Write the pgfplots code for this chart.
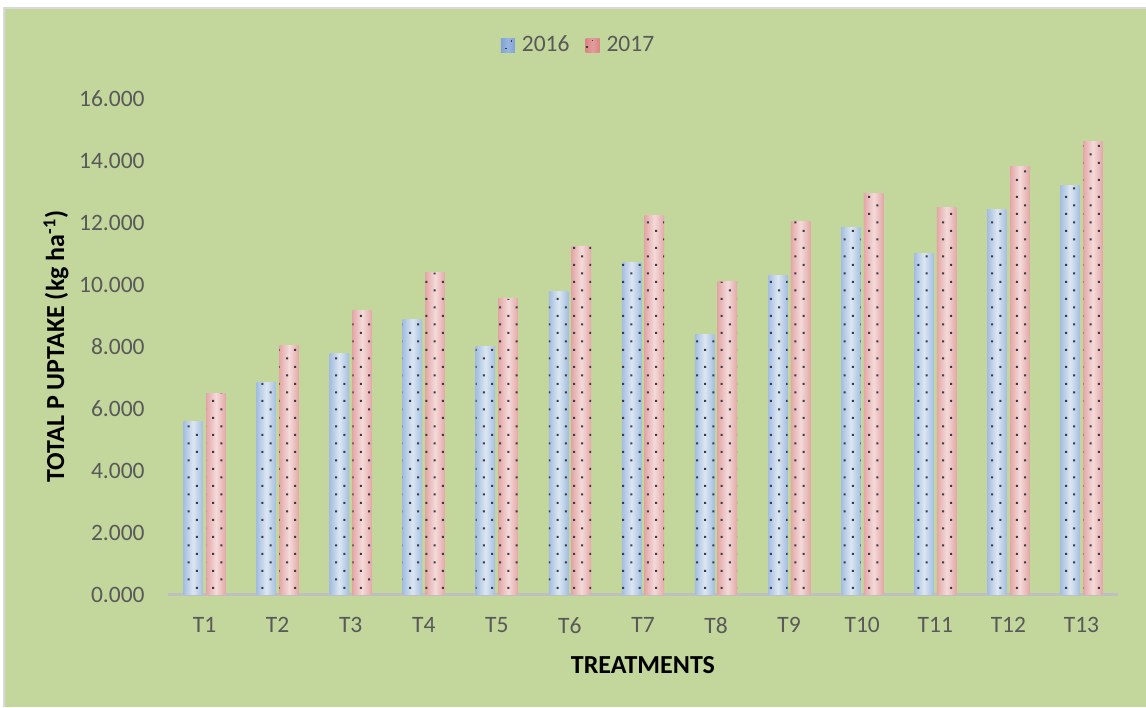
\documentclass[border=0pt]{standalone}
\usepackage{fontspec}
\setmainfont{Carlito}
\usepackage{pgfplots}
\usepackage{pgfplotstable}
\pgfplotsset{compat=1.18}
\usetikzlibrary{patterns}

\definecolor{panelgreen}{HTML}{C3D69B}
\definecolor{panelborder}{HTML}{D9D9D9}
\definecolor{ticktext}{HTML}{595959}
\definecolor{baseline}{HTML}{BFBFBF}
\definecolor{blueedge}{HTML}{A3BEE0}
\definecolor{bluemid}{HTML}{DCE6F2}
\definecolor{bluekey}{HTML}{7FA3D6}
\definecolor{rededge}{HTML}{E3A7A6}
\definecolor{redmid}{HTML}{F4DADA}
\definecolor{redkey}{HTML}{D98584}
\definecolor{dotcolor}{HTML}{3A3A46}

% sparse staggered dots laid over the bars
\pgfdeclarepatternformonly{bardots}{\pgfpoint{-1pt}{-1pt}}{\pgfpoint{6pt}{6pt}}{\pgfpoint{8.2pt}{8.5pt}}{%
  \pgfpathrectangle{\pgfpoint{-0.5pt}{-0.5pt}}{\pgfpoint{1pt}{1pt}}%
  \pgfpathrectangle{\pgfpoint{3.6pt}{3.75pt}}{\pgfpoint{1pt}{1pt}}%
  \pgfusepath{fill}%
}

\newcommand\ticksize{\fontsize{11.75pt}{14pt}\selectfont}
\newcommand\labelfont{\fontsize{13pt}{15.6pt}\selectfont\bfseries}

% total P uptake (kg/ha) per treatment
\pgfplotstableread{
x   y2016   y2017
1   5.58    6.50
2   6.85    8.03
3   7.77    9.17
4   8.87   10.38
5   8.00    9.54
6   9.77   11.24
7  10.71   12.23
8   8.40   10.09
9  10.29   12.04
10 11.84   12.94
11 11.01   12.48
12 12.43   13.81
13 13.20   14.61
}\uptake

\pgfplotsset{
  bar16/.style={draw=none, left color=blueedge, right color=blueedge, middle color=bluemid, bar shift=-5.7pt},
  bar17/.style={draw=none, left color=rededge, right color=rededge, middle color=redmid, bar shift=5.7pt},
  dotted bars/.style={draw=none, pattern=bardots, pattern color=dotcolor},
}

\begin{document}
\begin{tikzpicture}
\path[use as bounding box] (-84pt,-56.25pt) rectangle (489pt,297.25pt);
\fill[panelgreen] (-82pt,-56.25pt) rectangle (489pt,293.25pt);
\draw[panelborder, line width=0.6pt] (-82pt,-56.25pt) -- (-82pt,293.25pt) -- (489pt,293.25pt);
\begin{axis}[
  at={(0pt,0pt)}, anchor=south west,
  width=475pt, height=248pt, scale only axis,
  xmin=0.5, xmax=13.5, ymin=0, ymax=16,
  enlargelimits=false,
  xtick={1,...,13},
  xticklabels={T1,T2,T3,T4,T5,T6,T7,T8,T9,T10,T11,T12,T13},
  ytick={0,2,...,16},
  ybar, bar width=9.75pt,
  axis x line*=bottom, axis y line*=left,
  x axis line style={draw=baseline, line width=1.75pt, -},
  y axis line style={draw=none, -},
  major tick length=0pt,
  tick label style={font=\ticksize, text=ticktext},
  yticklabel style={anchor=east, inner sep=0pt, xshift=-11.5pt,
    /pgf/number format/.cd, fixed, fixed zerofill, precision=3, assume math mode=true},
  xticklabel style={anchor=north, inner sep=0pt, yshift=-11.4pt},
  every axis y label/.style={at={(axis description cs:-0.1179,0.5)}, anchor=center, rotate=90, font=\labelfont},
  every axis x label/.style={at={(axis description cs:0.5,-0.1413)}, anchor=center, font=\labelfont},
  ylabel={TOTAL P UPTAKE (kg ha\textsuperscript{-1})},
  xlabel={TREATMENTS},
  legend columns=2,
  legend style={at={(rel axis cs:0.4332,1.107)}, anchor=center, draw=none, fill=none,
    font=\ticksize, text=ticktext,
    /tikz/every odd column/.append style={column sep=1.5pt},
    /tikz/every even column/.append style={column sep=6pt}},
]
% one path per bar so that each bar gets its own shading
\pgfplotsinvokeforeach{1,...,13}{
  \addplot[bar16, forget plot, x filter/.expression={x==#1 ? x : nan}]
    table[x=x, y=y2016] {\uptake};
  \addplot[bar17, forget plot, x filter/.expression={x==#1 ? x : nan}]
    table[x=x, y=y2017] {\uptake};
}
\addplot[dotted bars, bar shift=-5.7pt, forget plot] table[x=x, y=y2016] {\uptake};
\addplot[dotted bars, bar shift=5.7pt, forget plot] table[x=x, y=y2017] {\uptake};

\addlegendimage{draw=none, fill=none, legend image code/.code={%
    \shade[draw=none, left color=bluekey, right color=bluekey, middle color=bluekey!80!white] (0pt,-3.5pt) rectangle (7pt,3.5pt);
    \fill[dotcolor] (4.9pt,1.9pt) rectangle (5.6pt,2.6pt);
    \fill[dotcolor] (2.2pt,-1.9pt) rectangle (2.9pt,-1.2pt);}}
\addlegendentry{2016}
\addlegendimage{draw=none, fill=none, legend image code/.code={%
    \shade[draw=none, left color=redkey, right color=redkey, middle color=redkey!80!white] (0pt,-3.5pt) rectangle (7pt,3.5pt);
    \fill[dotcolor] (3.2pt,2.2pt) rectangle (3.9pt,2.9pt);
    \fill[dotcolor] (0.4pt,-1.2pt) rectangle (1.1pt,-0.5pt);}}
\addlegendentry{2017}
\end{axis}
\end{tikzpicture}
\end{document}
